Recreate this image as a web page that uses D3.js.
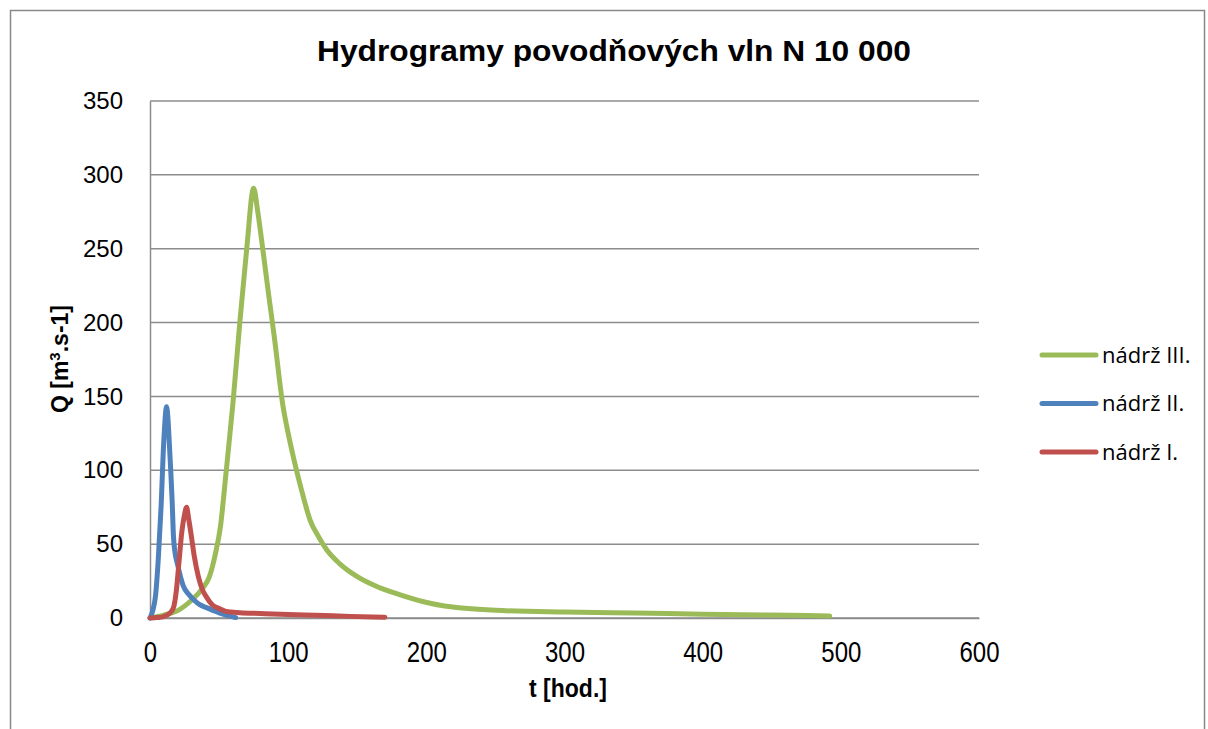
<!DOCTYPE html>
<html>
<head>
<meta charset="utf-8">
<script src="https://cdn.jsdelivr.net/npm/d3@7"></script>
<style>
  body { margin: 0; background: #fff; }
</style>
</head>
<body>
<div id="chart"></div>
<script>
// hydrographs (t in hours, Q in m3/s)
var tIII = [0, 10, 20, 30, 38, 43, 47, 51, 55, 60, 65, 70, 75, 78, 82, 86, 90, 96, 100, 104, 109, 116, 122, 128, 137, 150, 165, 180, 198, 212, 228, 250, 300, 350, 400, 450, 492];
var qIII = [0, 2, 5, 12, 20, 28, 42, 62, 98, 145, 200, 250, 291, 275, 247, 218, 190, 145, 125, 108, 89, 66, 55, 46, 37, 28, 21, 16, 11, 8.3, 6.6, 5.2, 4, 3.4, 2.6, 2, 1.4];

var tII = [0, 2, 4, 6, 8, 10, 12, 13, 14, 15, 16, 17, 18, 20, 24, 28, 32, 36, 41, 46, 50, 55, 60, 62];
var qII = [0, 5, 15, 40, 75, 120, 143, 135, 118, 100, 80, 55, 45, 36, 22, 16, 12, 9, 7, 5, 3.5, 2, 0.8, 0.3];

var tI = [0, 5, 10, 14, 17, 19, 21, 23, 25, 26.5, 28, 30, 32, 35, 38, 41, 45, 50, 55, 65, 80, 100, 120, 145, 170];
var qI = [0, 0.3, 1, 3, 7, 18, 38, 58, 70, 75, 67, 55, 42, 28, 19, 14, 9, 6.5, 4.5, 3.6, 3, 2.3, 1.8, 1.1, 0.5];

var seriesNames = ["nádrž III.", "nádrž II.", "nádrž I."];
var seriesColors = ["#9BBB59", "#4F81BD", "#C0504D"];
var xTicks = [0, 100, 200, 300, 400, 500, 600];
var yTicks = [0, 50, 100, 150, 200, 250, 300, 350];

var W = 1208, H = 729;
var margin = { top: 101, left: 150, right: 229, bottom: 111 };
var width = W - margin.left - margin.right,
    height = H - margin.top - margin.bottom;

var svg = d3.select("#chart").append("svg")
    .attr("width", W)
    .attr("height", H)
    .style("font-family", "'Liberation Sans', Arial, sans-serif");

// chart frame
svg.append("rect")
    .attr("x", 10.5).attr("y", 10.5)
    .attr("width", 1194).attr("height", 740)
    .attr("fill", "none")
    .attr("stroke", "#898989")
    .attr("stroke-width", 1.5);

svg.append("text")
    .attr("x", 614).attr("y", 61)
    .attr("text-anchor", "middle")
    .attr("textLength", 594)
    .attr("lengthAdjust", "spacingAndGlyphs")
    .style("font-family", "'Liberation Sans', Arial, sans-serif")
    .style("font-size", "29px")
    .style("font-weight", "bold")
    .text("Hydrogramy povodňových vln N 10 000");

var g = svg.append("g")
    .attr("transform", "translate(" + margin.left + "," + margin.top + ")");

var x = d3.scaleLinear().domain([0, 600]).range([0, width]);
var y = d3.scaleLinear().domain([0, 350]).range([height, 0]);

// horizontal gridlines
g.append("g")
    .selectAll("line")
    .data(yTicks)
    .enter()
    .append("line")
    .attr("x1", 0).attr("x2", width)
    .attr("y1", function (d) { return y(d); })
    .attr("y2", function (d) { return y(d); })
    .attr("stroke", "#8c8c8c")
    .attr("stroke-width", 1.5);

// y axis
var yAxis = g.append("g")
    .call(d3.axisLeft(y).tickValues(yTicks).tickSize(0).tickPadding(27));
yAxis.select(".domain").attr("stroke", "#8c8c8c").attr("stroke-width", 1.5);
yAxis.selectAll("text")
    .style("font-size", "24px")
    .style("font-family", "'Liberation Sans', Arial, sans-serif")
    .attr("fill", "#000");

// x axis
var xAxis = g.append("g")
    .attr("transform", "translate(0," + height + ")")
    .call(d3.axisBottom(x).tickValues(xTicks).tickSize(0).tickPadding(0));
xAxis.select(".domain").attr("stroke", "#8c8c8c").attr("stroke-width", 1.5);
xAxis.selectAll("text")
    .attr("dy", null)
    .attr("y", 0)
    .attr("transform", "translate(0,44) scale(1,1.2)")
    .style("font-size", "24px")
    .style("font-family", "'Liberation Sans', Arial, sans-serif")
    .attr("fill", "#000");

// axis titles
svg.append("text")
    .attr("transform", "translate(568,697) scale(1,1.15)")
    .attr("text-anchor", "middle")
    .style("font-size", "23px")
    .style("font-weight", "bold")
    .text("t [hod.]");

var yt = svg.append("text")
    .attr("transform", "translate(68,359) rotate(-90)")
    .attr("text-anchor", "middle")
    .style("font-size", "23px")
    .style("font-weight", "bold");
yt.append("tspan").text("Q [m");
yt.append("tspan").attr("dy", -8).style("font-size", "15px").text("3");
yt.append("tspan").attr("dy", 8).text(".s-1]");

// lines
var series = [
    { name: seriesNames[0], t: tIII, q: qIII, color: seriesColors[0] },
    { name: seriesNames[1], t: tII, q: qII, color: seriesColors[1] },
    { name: seriesNames[2], t: tI, q: qI, color: seriesColors[2] }
];

var line = d3.line()
    .x(function (d) { return x(d[0]); })
    .y(function (d) { return y(d[1]); })
    .curve(d3.curveMonotoneX);

g.append("g")
    .selectAll("path")
    .data(series)
    .enter()
    .append("path")
    .attr("d", function (s) { return line(d3.zip(s.t, s.q)); })
    .attr("fill", "none")
    .attr("stroke", function (s) { return s.color; })
    .attr("stroke-width", 5)
    .attr("stroke-linecap", "round")
    .attr("stroke-linejoin", "round");

// legend
var legend = svg.append("g")
    .selectAll("g")
    .data(series)
    .enter()
    .append("g")
    .attr("transform", function (s, i) { return "translate(1040," + (355 + i * 48.5) + ")"; });

legend.append("line")
    .attr("x1", 2).attr("x2", 56)
    .attr("stroke", function (s) { return s.color; })
    .attr("stroke-width", 5)
    .attr("stroke-linecap", "round");

legend.append("text")
    .attr("x", 62)
    .attr("dy", "0.36em")
    .style("font-family", "'Open Sans', Lato, sans-serif")
    .style("font-size", "22px")
    .text(function (s) { return s.name; });
</script>
</body>
</html>
